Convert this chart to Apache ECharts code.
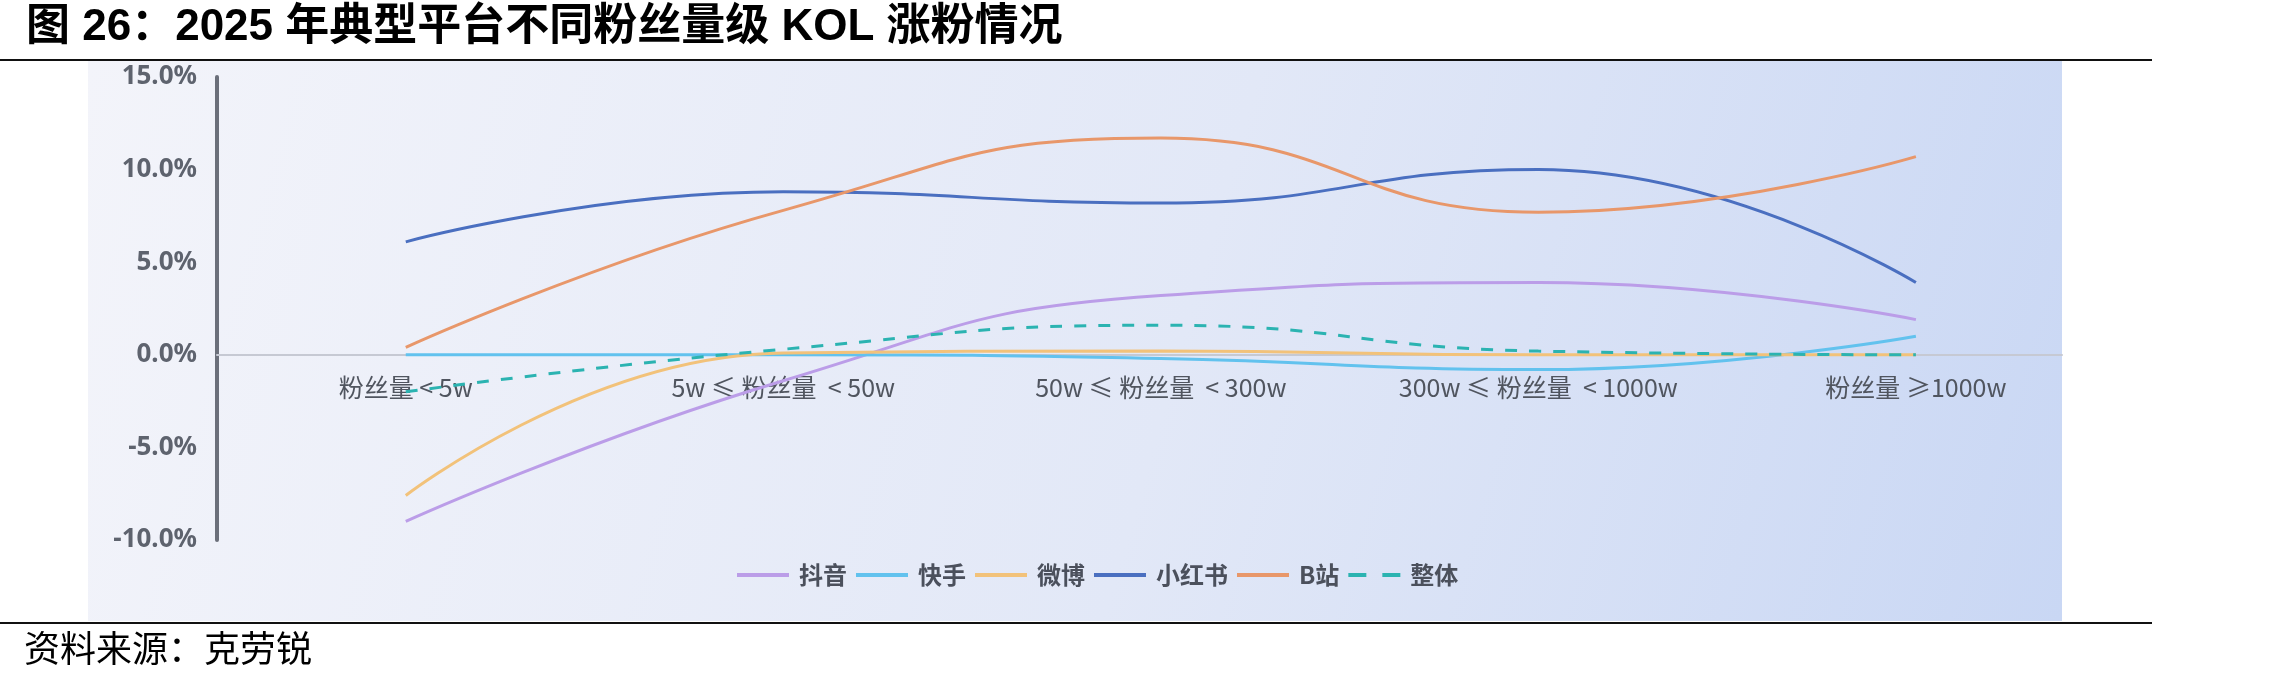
<!DOCTYPE html>
<html>
<head>
<meta charset="utf-8">
<script src="https://cdn.jsdelivr.net/npm/echarts@6/dist/echarts.min.js"></script>
<style>
  html, body { margin: 0; padding: 0; background: #fff; }
  #chart { width: 2280px; height: 683px; }
</style>
</head>
<body>
<div id="chart"></div>
<script>
// 粉丝量级
const categories = ['粉丝量 < 5w', '5w ≤ 粉丝量  < 50w', '50w ≤ 粉丝量  < 300w', '300w ≤ 粉丝量  < 1000w', '粉丝量 ≥1000w']
// 各平台涨粉率 (%)
const douyin = [-9.0, -1.4, 3.2, 3.9, 1.9]
const kuaishou = [0.0, 0.0, -0.2, -0.8, 1.0]
const weibo = [-7.6, 0.1, 0.2, 0.0, 0.0]
const xiaohongshu = [6.1, 8.8, 8.2, 10.0, 3.9]
const bilibili = [0.4, 7.8, 11.7, 7.7, 10.7]
const overall = [-2.0, 0.3, 1.6, 0.2, 0.0]
const yTicks = [-10, -5, 0, 5, 10, 15]

const chart = echarts.init(document.getElementById('chart'))

const solidIcon = 'path://M0,0H52V4H0Z'
const dashIcon = 'path://M0,0H18V4H0Z M34,0H52V4H34Z'

function toPoints(arr) {
  return arr.map((v, i) => [i, v])
}

function lineSeries(name, data, color, dashed) {
  return {
    name,
    type: 'line',
    smooth: true,
    symbol: 'none',
    data: toPoints(data),
    lineStyle: { color, width: 3, type: dashed ? [12, 12] : 'solid' },
    itemStyle: { color },
  }
}

// 网格：y 轴 -10% ~ 15%，零线位置
const gridTop = 77
const gridHeight = 463
const zeroOffset = gridHeight * yTicks[0] / (yTicks[yTicks.length - 1] - yTicks[0])

const option = {
  animation: false,
  graphic: [
    {
      type: 'rect',
      z: -100,
      shape: { x: 88, y: 61, width: 1974, height: 560 },
      style: {
        fill: new echarts.graphic.LinearGradient(0, 0, 1, 1, [
          { offset: 0, color: '#f3f4fa' },
          { offset: 0.55, color: '#e2e8f7' },
          { offset: 1, color: '#c9d7f4' },
        ]),
      },
    },
    {
      type: 'text',
      left: 26,
      top: 6,
      style: {
        text: '图 26：2025 年典型平台不同粉丝量级 KOL 涨粉情况',
        font: 'bold 44px "Liberation Sans", "Noto Sans CJK SC"',
        fill: '#000',
      },
    },
    {
      type: 'line',
      shape: { x1: 0, y1: 60, x2: 2152, y2: 60 },
      style: { stroke: '#111', lineWidth: 2 },
    },
    {
      type: 'line',
      shape: { x1: 0, y1: 623, x2: 2152, y2: 623 },
      style: { stroke: '#111', lineWidth: 2 },
    },
    {
      type: 'text',
      left: 24,
      top: 630,
      style: {
        text: '资料来源：克劳锐',
        font: '36px "Noto Sans CJK SC"',
        fill: '#000',
      },
    },
  ],
  legend: {
    left: 732,
    top: 558,
    itemWidth: 52,
    itemHeight: 4,
    itemGap: 9,
    textStyle: {
      fontSize: 24,
      fontFamily: 'Noto Sans CJK SC',
      fontWeight: 'bold',
      color: '#4b505c',
      padding: [0, 0, 0, 5],
    },
    data: [
      { name: '抖音', icon: solidIcon },
      { name: '快手', icon: solidIcon },
      { name: '微博', icon: solidIcon },
      { name: '小红书', icon: solidIcon },
      { name: 'B站', icon: solidIcon },
      { name: '整体', icon: dashIcon },
    ],
  },
  grid: { left: 217, top: gridTop, width: 1845, height: gridHeight },
  xAxis: {
    type: 'value',
    min: -0.5,
    max: 4.387,
    interval: 0.5,
    offset: zeroOffset,
    axisLine: { onZero: false, lineStyle: { color: '#c6c9d3', width: 2 } },
    axisTick: { show: false },
    splitLine: { show: false },
    axisLabel: {
      margin: 20,
      fontSize: 25,
      fontFamily: 'Noto Sans CJK SC',
      color: '#50555f',
      showMinLabel: true,
      showMaxLabel: true,
      formatter: (v) => (Number.isInteger(v) && categories[v]) ? categories[v] : '',
    },
  },
  yAxis: {
    type: 'value',
    min: yTicks[0],
    max: yTicks[yTicks.length - 1],
    interval: 5,
    axisLine: { show: true, onZero: false, lineStyle: { color: '#6b6f7a', width: 4 } },
    axisTick: { show: false },
    splitLine: { show: false },
    axisLabel: {
      margin: 20,
      fontSize: 26,
      fontWeight: 'bold',
      fontFamily: 'Noto Sans',
      color: '#5e636e',
      formatter: (v) => v.toFixed(1) + '%',
    },
  },
  series: [
    lineSeries('抖音', douyin, '#bb9de8'),
    lineSeries('快手', kuaishou, '#62c2ee'),
    lineSeries('微博', weibo, '#f2c27a'),
    lineSeries('小红书', xiaohongshu, '#4a6fc0'),
    lineSeries('B站', bilibili, '#e8976a'),
    lineSeries('整体', overall, '#2bb3b1', true),
  ],
}

chart.setOption(option)
</script>
</body>
</html>
